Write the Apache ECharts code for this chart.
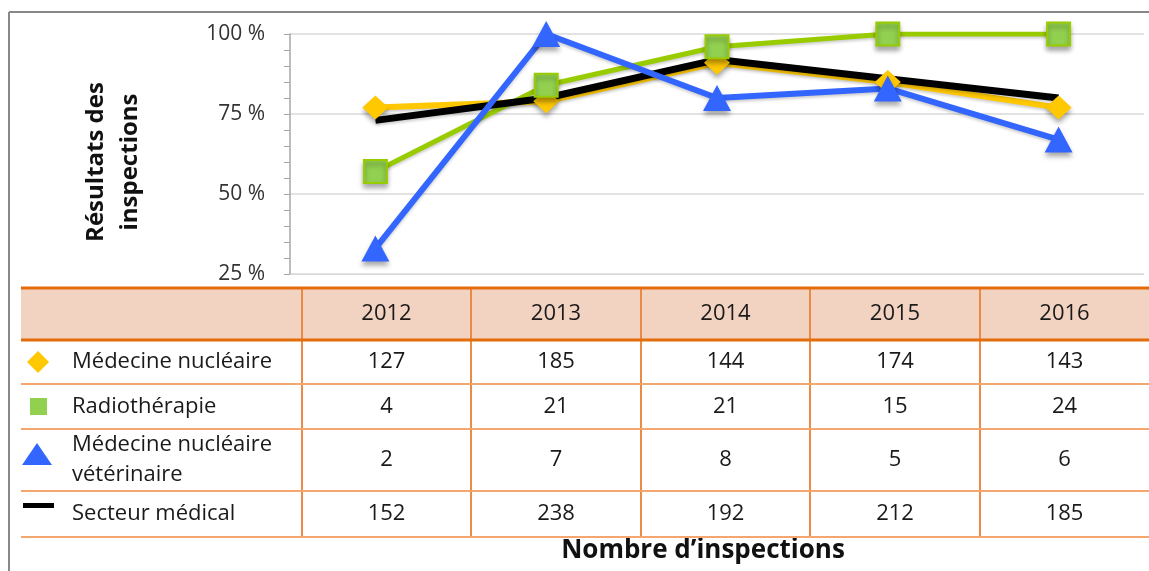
<!DOCTYPE html>
<html>
<head>
<meta charset="utf-8">
<script src="https://cdn.jsdelivr.net/npm/echarts@6/dist/echarts.min.js"></script>
<style>
  html, body { margin: 0; padding: 0; background: #fff; }
  #container { width: 1149px; height: 571px; }
</style>
</head>
<body>
<div id="container"></div>
<script>
// data
let years = ['2012', '2013', '2014', '2015', '2016'];
let rowNames = ['Médecine nucléaire', 'Radiothérapie', 'Médecine nucléaire\nvétérinaire', 'Secteur médical'];
let pctMedNuc = [77, 79, 91, 85, 77];
let pctRadio = [57, 84, 96, 100, 100];
let pctVet = [33, 100, 80, 83, 67];
let pctMedical = [73, 80, 92, 86, 80];
let countMedNuc = [127, 185, 144, 174, 143];
let countRadio = [4, 21, 21, 15, 24];
let countVet = [2, 7, 8, 5, 6];
let countMedical = [152, 238, 192, 212, 185];
let yMin = 25, yMax = 100, yStep = 25;

let dom = document.getElementById("container");
let myChart = echarts.init(dom, null, { renderer: 'canvas' });

let font = '"Open Sans", "Noto Sans", sans-serif';
let orange = '#E46C0A';
let orangeLight = '#F3A66E';
let colYellow = '#FFC800', colGreen = '#99CC00', colGreenFill = '#92D050', colBlue = '#3366FF', colBlack = '#000000';
let textCol = '#1a1a1a';

// table layout
let tblLeft = 21, tblRight = 1149;
let colEdges = [302, 471, 641, 810, 980, 1149];
let rowEdges = [288, 340, 384, 429, 491, 537];
let counts = [countMedNuc, countRadio, countVet, countMedical];

let graphics = [];
// outer frame
graphics.push({ type: 'line', shape: { x1: 9, y1: 12, x2: 1149, y2: 12 }, style: { stroke: '#888', lineWidth: 2 } });
graphics.push({ type: 'line', shape: { x1: 9, y1: 12, x2: 9, y2: 571 }, style: { stroke: '#888', lineWidth: 2 } });
// header band
graphics.push({ type: 'rect', shape: { x: tblLeft, y: rowEdges[0], width: tblRight - tblLeft, height: rowEdges[1] - rowEdges[0] }, style: { fill: '#F2D3C2' } });
// row lines
rowEdges.forEach(function (y, i) {
    let thick = i < 2;
    graphics.push({ type: 'line', shape: { x1: tblLeft, y1: y, x2: tblRight, y2: y }, style: { stroke: thick ? orange : orangeLight, lineWidth: thick ? 3 : 2 }, z: 10 });
});
// column lines
colEdges.slice(0, 5).forEach(function (x) {
    graphics.push({ type: 'line', shape: { x1: x, y1: rowEdges[0], x2: x, y2: rowEdges[5] }, style: { stroke: '#EA8A45', lineWidth: 2 }, z: 9 });
});
// header years
years.forEach(function (yr, j) {
    graphics.push({ type: 'text', x: (colEdges[j] + colEdges[j + 1]) / 2, y: (rowEdges[0] + rowEdges[1]) / 2,
        style: { text: yr, font: '22px ' + font, fill: textCol, textAlign: 'center', textVerticalAlign: 'middle' }, z: 11 });
});
// row labels and counts
rowNames.forEach(function (name, i) {
    let cy = (rowEdges[i + 1] + rowEdges[i + 2]) / 2;
    graphics.push({ type: 'text', x: 72, y: cy,
        style: { text: name, font: '22px ' + font, lineHeight: 30, fill: textCol, textAlign: 'left', textVerticalAlign: 'middle' }, z: 11 });
    counts[i].forEach(function (v, j) {
        graphics.push({ type: 'text', x: (colEdges[j] + colEdges[j + 1]) / 2, y: cy,
            style: { text: String(v), font: '22px ' + font, fill: textCol, textAlign: 'center', textVerticalAlign: 'middle' }, z: 11 });
    });
});
// legend icons in the table
graphics.push({ type: 'polygon', shape: { points: [[38, 351], [49, 362], [38, 373], [27, 362]] }, style: { fill: colYellow } });
graphics.push({ type: 'rect', shape: { x: 30, y: 398, width: 17, height: 17 }, style: { fill: colGreenFill } });
graphics.push({ type: 'polygon', shape: { points: [[37, 443], [52, 465], [22, 465]] }, style: { fill: colBlue } });
graphics.push({ type: 'rect', shape: { x: 23, y: 503, width: 31, height: 5 }, style: { fill: colBlack } });
// axis titles
graphics.push({ type: 'text', x: 113, y: 162, rotation: Math.PI / 2,
    style: { text: 'Résultats des\ninspections', font: 'bold 24px ' + font, lineHeight: 34, fill: '#111', textAlign: 'center', textVerticalAlign: 'middle' } });
graphics.push({ type: 'text', x: 703, y: 551,
    style: { text: 'Nombre d\u2019inspections', font: 'bold 26px ' + font, fill: '#111', textAlign: 'center', textVerticalAlign: 'middle' } });

let shadow = { shadowBlur: 5, shadowColor: 'rgba(0,0,0,0.35)', shadowOffsetY: 4 };

function lineSeries(name, data, color, width, symbol, size, itemExtra) {
    return {
        name: name,
        type: 'line',
        data: data,
        symbol: symbol,
        symbolSize: size,
        lineStyle: { color: color, width: width, shadowBlur: 3, shadowColor: 'rgba(0,0,0,0.2)', shadowOffsetY: 2 },
        itemStyle: Object.assign({ color: color }, shadow, itemExtra || {}),
        emphasis: { disabled: true }
    };
}

option = null;
option = {
    animation: false,
    textStyle: { fontFamily: font },
    grid: { left: 290, right: 5, top: 34, bottom: 297, containLabel: false },
    xAxis: {
        type: 'category',
        data: years,
        boundaryGap: true,
        axisLine: { show: true, lineStyle: { color: '#D9D9D9', width: 1 } },
        axisTick: { show: false },
        axisLabel: { show: false },
        splitLine: { show: false }
    },
    yAxis: {
        type: 'value',
        min: yMin,
        max: yMax,
        interval: yStep,
        axisLine: { show: true, lineStyle: { color: '#A6A6A6', width: 1.5 } },
        axisTick: { show: true, length: 6, lineStyle: { color: '#A6A6A6' } },
        minorTick: { show: true, splitNumber: 5, length: 6, lineStyle: { color: '#A6A6A6' } },
        splitLine: { show: true, lineStyle: { color: '#D9D9D9', width: 1.5 } },
        axisLabel: { formatter: '{value} %', fontSize: 21, color: '#333', margin: 25, fontFamily: font }
    },
    graphic: graphics,
    series: [
        lineSeries(rowNames[0], pctMedNuc, colYellow, 6, 'diamond', [26, 24]),
        lineSeries(rowNames[1], pctRadio, colGreen, 5, 'rect', 23, { color: colGreenFill, borderColor: colGreen, borderWidth: 2 }),
        lineSeries(rowNames[3], pctMedical, colBlack, 7, 'none', 1),
        lineSeries(rowNames[2], pctVet, colBlue, 6, 'triangle', [28, 26])
    ]
};
if (option && typeof option === "object")
{
    myChart.setOption(option, true);
}
</script>
</body>
</html>
